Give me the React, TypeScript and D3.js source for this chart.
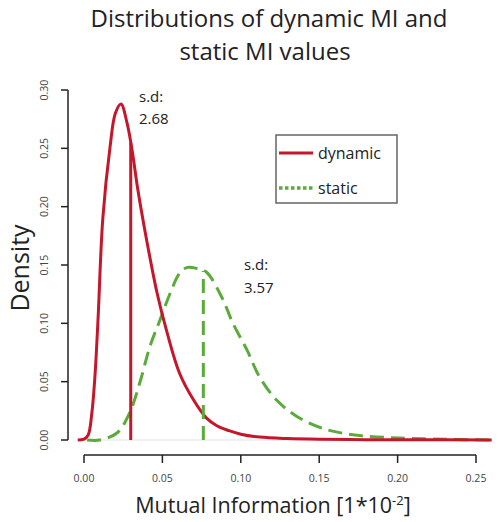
import React from "react";
import * as d3 from "d3";

const dynX = [-0.004, 0.0, 0.0026, 0.005, 0.007, 0.009, 0.012, 0.0166, 0.02, 0.0236, 0.0274, 0.0306, 0.0344, 0.04, 0.0466, 0.053, 0.061, 0.07, 0.078, 0.085, 0.0925, 0.1, 0.112, 0.13, 0.15, 0.18, 0.21, 0.26];
const dynY = [0, 0.0008, 0.004, 0.023, 0.055, 0.105, 0.19, 0.251, 0.28, 0.288, 0.272, 0.249, 0.214, 0.171, 0.126, 0.092, 0.057, 0.034, 0.019, 0.012, 0.008, 0.005, 0.0025, 0.0012, 0.0006, 0.0003, 0.0002, 0];
const statX = [0.002, 0.01, 0.021, 0.029, 0.036, 0.042, 0.0485, 0.055, 0.061, 0.066, 0.072, 0.078, 0.088, 0.095, 0.104, 0.112, 0.123, 0.136, 0.152, 0.174, 0.2015, 0.233, 0.26];
const statY = [0, 0, 0.006, 0.023, 0.051, 0.08, 0.103, 0.126, 0.143, 0.148, 0.147, 0.144, 0.122, 0.1, 0.077, 0.054, 0.034, 0.02, 0.01, 0.004, 0.0017, 0.0005, 0];
const means = [0.0298, 0.0761];
const sdLabels = ["2.68", "3.57"];
const xTicks = [0, 0.05, 0.1, 0.15, 0.2, 0.25];
const yTicks = [0, 0.05, 0.1, 0.15, 0.2, 0.25, 0.3];
const seriesNames = ["dynamic", "static"];

const RED = "#c4172c";
const GREEN = "#5aab3a";
const FONT = "'Open Sans', 'Noto Sans', sans-serif";

function interp(xs: number[], ys: number[], x: number) {
  const i = d3.bisectRight(xs, x);
  if (i <= 0) return ys[0];
  if (i >= xs.length) return ys[ys.length - 1];
  const t = (x - xs[i - 1]) / (xs[i] - xs[i - 1]);
  return ys[i - 1] + t * (ys[i] - ys[i - 1]);
}

export default function App() {
  const x = d3.scaleLinear().domain([0, 0.25]).range([84, 476]);
  const y = d3.scaleLinear().domain([0, 0.3]).range([440, 90]);
  const line = d3
    .line<[number, number]>()
    .x((d) => x(d[0]))
    .y((d) => Math.min(y(0), y(d[1])))
    .curve(d3.curveCatmullRom.alpha(0.5));
  const dynPts = dynX.map((v, i) => [v, dynY[i]] as [number, number]);
  const statPts = statX.map((v, i) => [v, statY[i]] as [number, number]);
  const dynTop = interp(dynX, dynY, means[0]);
  const statTop = interp(statX, statY, means[1]);
  const fmt = d3.format(".2f");

  return (
    <svg
      width={498}
      height={522}
      style={{ position: "absolute", left: 0, top: 0, background: "#fff" }}
      fontFamily={FONT}
    >
      <rect width={498} height={522} fill="#fff" />
      {/* title */}
      <text x={269} y={27} textAnchor="middle" fontSize={24} fill="#222">
        Distributions of dynamic MI and
      </text>
      <text x={265} y={60} textAnchor="middle" fontSize={24} fill="#222">
        static MI values
      </text>

      {/* zero baseline */}
      <line x1={x(-0.004)} x2={x(0.26)} y1={y(0)} y2={y(0)} stroke="#e4e4e4" strokeWidth={1.2} />

      {/* y axis */}
      <line x1={68} x2={68} y1={y(0)} y2={y(0.3)} stroke="#222" strokeWidth={1.5} />
      {yTicks.map((t) => (
        <g key={t}>
          <line x1={61} x2={68} y1={y(t)} y2={y(t)} stroke="#222" strokeWidth={1.5} />
          <text
            transform={`translate(48,${y(t)}) rotate(-90)`}
            textAnchor="middle"
            fontSize={10.5}
            fill="#444"
          >
            {fmt(t)}
          </text>
        </g>
      ))}
      <text transform={`translate(29,268) rotate(-90)`} textAnchor="middle" fontSize={25} fill="#222">
        Density
      </text>

      {/* x axis */}
      <line x1={x(0)} x2={x(0.25)} y1={455} y2={455} stroke="#222" strokeWidth={1.5} />
      {xTicks.map((t) => (
        <g key={t}>
          <line x1={x(t)} x2={x(t)} y1={455} y2={463} stroke="#222" strokeWidth={1.5} />
          <text x={x(t)} y={482} textAnchor="middle" fontSize={10.5} fill="#444">
            {fmt(t)}
          </text>
        </g>
      ))}
      <text x={273} y={513} textAnchor="middle" fontSize={21.5} fill="#222">
        Mutual Information [1*10<tspan dy={-8} fontSize={13}>-2</tspan>
        <tspan dy={8}>]</tspan>
      </text>

      {/* curves */}
      <path d={line(statPts) || ""} fill="none" stroke={GREEN} strokeWidth={3} strokeDasharray="14,7" />
      <path d={line(dynPts) || ""} fill="none" stroke={RED} strokeWidth={3} strokeLinejoin="round" />
      <line x1={x(means[0])} x2={x(means[0])} y1={y(0)} y2={y(dynTop)} stroke={RED} strokeWidth={3} />
      <line
        x1={x(means[1])}
        x2={x(means[1])}
        y1={y(0)}
        y2={y(statTop)}
        stroke={GREEN}
        strokeWidth={3}
        strokeDasharray="14,7"
      />

      {/* annotations */}
      <text x={139} y={102} fontSize={15} fill="#222">s.d:</text>
      <text x={139} y={124} fontSize={15} fill="#222">{sdLabels[0]}</text>
      <text x={244} y={270} fontSize={15} fill="#222">s.d:</text>
      <text x={244} y={293} fontSize={15} fill="#222">{sdLabels[1]}</text>

      {/* legend */}
      <rect x={276} y={135} width={121} height={68} fill="#fff" stroke="#666" strokeWidth={1.5} />
      <line x1={279} x2={313} y1={153} y2={153} stroke={RED} strokeWidth={3} />
      <text x={318} y={159} fontSize={16} fill="#222">{seriesNames[0]}</text>
      <line x1={279} x2={313} y1={188} y2={188} stroke={GREEN} strokeWidth={3.5} strokeDasharray="3.5,2.5" />
      <text x={318} y={194} fontSize={16} fill="#222">{seriesNames[1]}</text>
    </svg>
  );
}
